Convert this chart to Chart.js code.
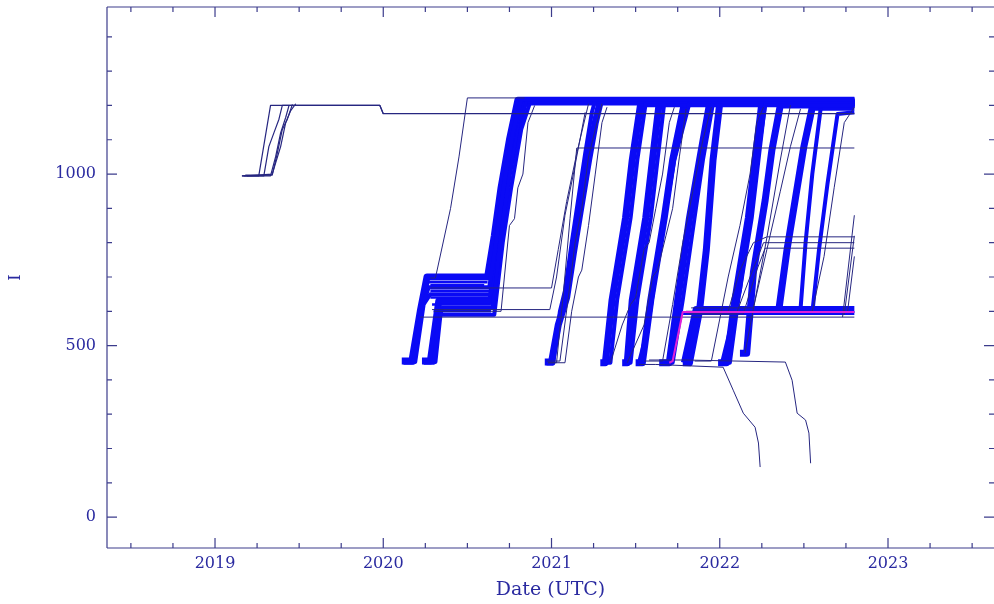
<!DOCTYPE html>
<html>
<head>
<meta charset="utf-8">
<title>OneWeb altitude</title>
<script src="https://cdn.jsdelivr.net/npm/chart.js@4.4.1/dist/chart.umd.min.js"></script>
<style>
  html, body { margin: 0; padding: 0; background: #fff; }
</style>
</head>
<body>
<canvas id="altChart" width="994" height="604"></canvas>
<script>
'use strict';

// axis ticks
const yearTicks = [2019, 2020, 2021, 2022, 2023];
const altTicks = [0, 500, 1000];

// each track = [decimal year, altitude km] waypoints
// first launch, 2019
const tracks2019 = [
  [[2019.16, 995], [2019.26, 995], [2019.33, 1200], [2019.98, 1200], [2020.00, 1176], [2022.80, 1176]],
  [[2019.16, 995], [2019.29, 995], [2019.32, 1080], [2019.35, 1120], [2019.38, 1160], [2019.40, 1200], [2019.98, 1200], [2020.00, 1176]],
  [[2019.17, 995], [2019.33, 995], [2019.36, 1050], [2019.39, 1120], [2019.42, 1165], [2019.44, 1200]],
  [[2019.18, 997], [2019.34, 997], [2019.37, 1060], [2019.40, 1130], [2019.43, 1160], [2019.46, 1203]],
  [[2019.19, 995], [2019.34, 1000], [2019.39, 1080], [2019.42, 1150], [2019.45, 1185], [2019.48, 1205]]
];

// dense groups (drawn thick)
const bandTracks = [
  [[2020.11, 455], [2020.17, 455], [2020.22, 600], [2020.26, 700], [2020.62, 700], [2020.66, 820], [2020.70, 960], [2020.75, 1100], [2020.80, 1215], [2022.80, 1215]],
  [[2020.23, 455], [2020.28, 455], [2020.31, 560], [2020.33, 630], [2020.64, 630], [2020.69, 830], [2020.74, 990], [2020.79, 1120], [2020.84, 1210], [2022.80, 1210]],
  [[2020.96, 452], [2021.00, 452], [2021.04, 560], [2021.09, 640], [2021.13, 770], [2021.17, 890], [2021.22, 1040], [2021.26, 1150], [2021.29, 1212], [2022.80, 1212]],
  [[2021.29, 450], [2021.32, 450], [2021.36, 633], [2021.44, 872], [2021.48, 1041], [2021.53, 1205], [2022.80, 1205]],
  [[2021.42, 450], [2021.45, 450], [2021.48, 633], [2021.56, 872], [2021.60, 1041], [2021.64, 1207], [2022.80, 1207]],
  [[2021.50, 450], [2021.54, 450], [2021.59, 633], [2021.67, 872], [2021.72, 1041], [2021.79, 1207], [2022.80, 1207]],
  [[2021.64, 450], [2021.70, 450], [2021.75, 633], [2021.82, 872], [2021.88, 1041], [2021.94, 1207], [2022.80, 1207]],
  [[2021.78, 450], [2021.82, 450], [2021.88, 603], [2021.92, 778], [2021.96, 1041], [2022.00, 1207], [2022.80, 1207]],
  [[2021.79, 450], [2021.86, 605], [2022.80, 605]],
  [[2021.99, 450], [2022.04, 450], [2022.09, 633], [2022.17, 872], [2022.21, 1041], [2022.25, 1207], [2022.80, 1207]],
  [[2022.12, 478], [2022.16, 478], [2022.20, 714], [2022.27, 924], [2022.31, 1070], [2022.36, 1201], [2022.80, 1201]],
  [[2022.35, 600], [2022.40, 780], [2022.45, 930], [2022.50, 1080], [2022.55, 1195], [2022.80, 1195]]
];

// medium groups
const midTracks = [
  [[2020.12, 450], [2020.18, 450], [2020.23, 610], [2020.27, 670], [2020.63, 670], [2020.67, 800], [2020.72, 980], [2020.77, 1120], [2020.82, 1218], [2022.80, 1218]],
  [[2020.13, 452], [2020.19, 452], [2020.24, 620], [2020.28, 650], [2020.64, 650], [2020.68, 850], [2020.73, 1000], [2020.78, 1130], [2020.83, 1212]],
  [[2020.24, 450], [2020.30, 450], [2020.33, 570], [2020.35, 610], [2020.65, 610], [2020.70, 820], [2020.75, 1000], [2020.80, 1150], [2020.85, 1215]],
  [[2020.25, 452], [2020.31, 452], [2020.34, 590], [2020.66, 590], [2020.71, 800], [2020.76, 960], [2020.82, 1130], [2020.87, 1205]],
  [[2020.97, 448], [2021.01, 448], [2021.05, 600], [2021.08, 660], [2021.12, 800], [2021.16, 930], [2021.20, 1060], [2021.24, 1180], [2021.26, 1215]],
  [[2021.33, 450], [2021.35, 450], [2021.39, 633], [2021.47, 872], [2021.51, 1041], [2021.56, 1207]],
  [[2021.44, 450], [2021.47, 450], [2021.51, 633], [2021.59, 872], [2021.63, 1041], [2021.67, 1207]],
  [[2021.52, 450], [2021.57, 545], [2021.64, 778], [2021.73, 1041], [2021.82, 1207]],
  [[2021.66, 450], [2021.72, 450], [2021.78, 633], [2021.85, 872], [2021.90, 1041], [2021.96, 1207]],
  [[2022.01, 443], [2022.12, 662], [2022.19, 924], [2022.24, 1099], [2022.27, 1201]],
  [[2022.02, 450], [2022.06, 450], [2022.11, 633], [2022.19, 872], [2022.23, 1041], [2022.27, 1207]],
  [[2022.48, 606], [2022.51, 800], [2022.55, 1000], [2022.60, 1192]],
  [[2022.55, 595], [2022.59, 780], [2022.64, 970], [2022.70, 1175], [2022.80, 1180]],
  [[2021.78, 595], [2022.80, 595]]
];

// 2020 satellites parked below the operational shell
const parking2020 = [
  [[2020.27, 685], [2020.62, 685]],
  [[2020.28, 676], [2020.60, 676]],
  [[2020.28, 660], [2020.63, 660]],
  [[2020.28, 640], [2020.63, 640]],
  [[2020.29, 620], [2020.64, 620]],
  [[2020.30, 600], [2020.64, 600]]
];

// single satellites
const thinTracks = [
  [[2020.28, 697], [2020.31, 697], [2020.40, 900], [2020.45, 1050], [2020.50, 1222], [2020.84, 1222]],
  [[2020.22, 583], [2022.80, 583]],
  [[2020.28, 668], [2021.00, 668], [2021.04, 780], [2021.09, 920], [2021.15, 1060], [2021.22, 1205]],
  [[2020.29, 605], [2020.99, 605], [2021.03, 700], [2021.08, 880], [2021.13, 1000], [2021.20, 1180]],
  [[2020.30, 600], [2020.70, 600], [2020.75, 850], [2020.78, 870], [2020.80, 960], [2020.83, 1000], [2020.86, 1150], [2020.90, 1200]],
  [[2020.98, 450], [2021.03, 450], [2021.07, 650], [2021.11, 870], [2021.15, 1076], [2022.80, 1076]],
  [[2020.97, 455], [2021.05, 455], [2021.10, 640], [2021.14, 800], [2021.18, 900], [2021.22, 1050], [2021.27, 1150], [2021.30, 1205]],
  [[2020.98, 450], [2021.08, 450], [2021.12, 600], [2021.16, 700], [2021.18, 720], [2021.22, 850], [2021.26, 1000], [2021.30, 1150], [2021.33, 1195]],
  [[2021.35, 450], [2021.42, 560], [2021.47, 620], [2021.50, 640], [2021.55, 780], [2021.58, 800], [2021.62, 900], [2021.66, 1000], [2021.70, 1150], [2021.73, 1195]],
  [[2021.45, 450], [2021.55, 560], [2021.60, 700], [2021.63, 720], [2021.68, 820], [2021.72, 900], [2021.76, 1050], [2021.80, 1190]],
  [[2021.55, 455], [2021.66, 455], [2021.72, 620], [2021.78, 800], [2021.84, 950], [2021.90, 1100], [2021.95, 1195]],
  [[2021.85, 455], [2021.95, 455], [2022.05, 700], [2022.12, 850], [2022.18, 1000], [2022.22, 1150], [2022.26, 1195]],
  [[2021.80, 600], [2022.05, 600], [2022.12, 720], [2022.20, 800], [2022.28, 817], [2022.80, 817]],
  [[2021.80, 595], [2022.10, 595], [2022.18, 700], [2022.26, 800], [2022.80, 800]],
  [[2021.82, 592], [2022.14, 592], [2022.22, 720], [2022.27, 784], [2022.80, 784]],
  [[2021.83, 610], [2022.20, 610], [2022.28, 780], [2022.36, 950], [2022.42, 1080], [2022.48, 1190]],
  [[2021.85, 600], [2022.55, 600], [2022.62, 760], [2022.68, 960], [2022.74, 1150], [2022.80, 1195]],
  [[2022.15, 478], [2022.28, 814], [2022.36, 1041], [2022.42, 1201]],
  [[2022.73, 583], [2022.80, 880]],
  [[2022.74, 590], [2022.80, 820]],
  [[2022.76, 600], [2022.80, 760]],
  [[2021.52, 445], [2021.62, 445], [2022.02, 437], [2022.08, 370], [2022.14, 303], [2022.21, 262], [2022.23, 216], [2022.24, 146]],
  [[2021.58, 458], [2021.80, 458], [2022.39, 452], [2022.43, 399], [2022.46, 303], [2022.51, 283], [2022.53, 245], [2022.54, 157]]
];

// highlighted satellite
const magentaTrack = [
  [[2021.70, 450], [2021.72, 455], [2021.78, 598], [2022.80, 598]]
];

const TEXT = '#2a2aa0';
const AXIS = '#3c3c8c';
const NAVY = '#262680';
const BLUE = '#0a0af5';
const MAGENTA = '#e020d8';

const datasets = [];
function addTracks(list, color, width) {
  list.forEach(function(t) {
    datasets.push({
      data: t.map(function(p) { return { x: p[0], y: p[1] }; }),
      borderColor: color,
      borderWidth: width,
      pointRadius: 0,
      fill: false,
      tension: 0,
      borderJoinStyle: 'round'
    });
  });
}
// first dataset ends up on top
addTracks(magentaTrack, MAGENTA, 2);
addTracks(thinTracks, NAVY, 1);
addTracks(tracks2019, NAVY, 1.2);
addTracks(parking2020, BLUE, 2.5);
addTracks(midTracks, BLUE, 4);
addTracks(bandTracks, BLUE, 7);

//枠と内向きの目盛り
const frameTicks = {
  id: 'frameTicks',
  afterDraw(chart) {
    const ctx = chart.ctx, a = chart.chartArea, x = chart.scales.x, y = chart.scales.y;
    ctx.save();
    ctx.strokeStyle = AXIS;
    ctx.lineWidth = 1.2;
    ctx.beginPath();
    ctx.moveTo(a.left, a.top); ctx.lineTo(a.right, a.top);
    ctx.moveTo(a.left, a.top); ctx.lineTo(a.left, a.bottom);
    ctx.moveTo(a.left, a.bottom); ctx.lineTo(a.right, a.bottom);
    for (let q = Math.ceil(x.min * 4); q <= Math.floor(x.max * 4); q++) {
      const px = x.getPixelForValue(q / 4);
      const len = q % 4 === 0 ? 10 : 5;
      ctx.moveTo(px, a.bottom); ctx.lineTo(px, a.bottom - len);
      ctx.moveTo(px, a.top); ctx.lineTo(px, a.top + len);
    }
    for (let h = 0; h <= y.max; h += 100) {
      const py = y.getPixelForValue(h);
      const len = h % 500 === 0 ? 10 : 5;
      ctx.moveTo(a.left, py); ctx.lineTo(a.left + len, py);
      ctx.moveTo(a.right, py); ctx.lineTo(a.right - len, py);
    }
    ctx.stroke();
    ctx.restore();
  }
};

const ctx = document.getElementById('altChart');
new Chart(ctx, {
  type: 'line',
  data: { datasets: datasets },
  options: {
    responsive: false,
    animation: false,
    layout: { padding: { top: 7, right: 0, left: 0, bottom: 0 } },
    plugins: { legend: { display: false }, tooltip: { enabled: false } },
    scales: {
      x: {
        type: 'linear',
        min: 2018.358,
        max: 2023.63,
        afterBuildTicks: function(s) { s.ticks = yearTicks.map(function(v) { return { value: v }; }); },
        afterFit: function(s) { s.height = 56; s.paddingLeft = 0; s.paddingRight = 0; },
        grid: { display: false, drawTicks: false },
        border: { display: false },
        ticks: {
          color: TEXT,
          font: { family: 'DejaVu Serif', size: 16 },
          padding: 6,
          maxRotation: 0,
          autoSkip: false,
          callback: function(v) { return String(v); }
        },
        title: {
          display: true,
          text: 'Date (UTC)',
          color: TEXT,
          font: { family: 'DejaVu Serif', size: 19 },
          padding: { top: 0, bottom: 3 }
        }
      },
      y: {
        type: 'linear',
        min: -90,
        max: 1487,
        afterBuildTicks: function(s) { s.ticks = altTicks.map(function(v) { return { value: v }; }); },
        afterFit: function(s) { s.width = 107; s.paddingTop = 0; s.paddingBottom = 0; },
        grid: { display: false, drawTicks: false },
        border: { display: false },
        ticks: {
          color: TEXT,
          font: { family: 'DejaVu Serif', size: 16 },
          padding: 11,
          autoSkip: false,
          callback: function(v) { return String(v); }
        },
        title: {
          display: true,
          text: 'I',
          color: TEXT,
          font: { family: 'DejaVu Serif', size: 16 },
          padding: { top: 6, bottom: 0 }
        }
      }
    }
  },
  plugins: [frameTicks]
});
</script>
</body>
</html>
